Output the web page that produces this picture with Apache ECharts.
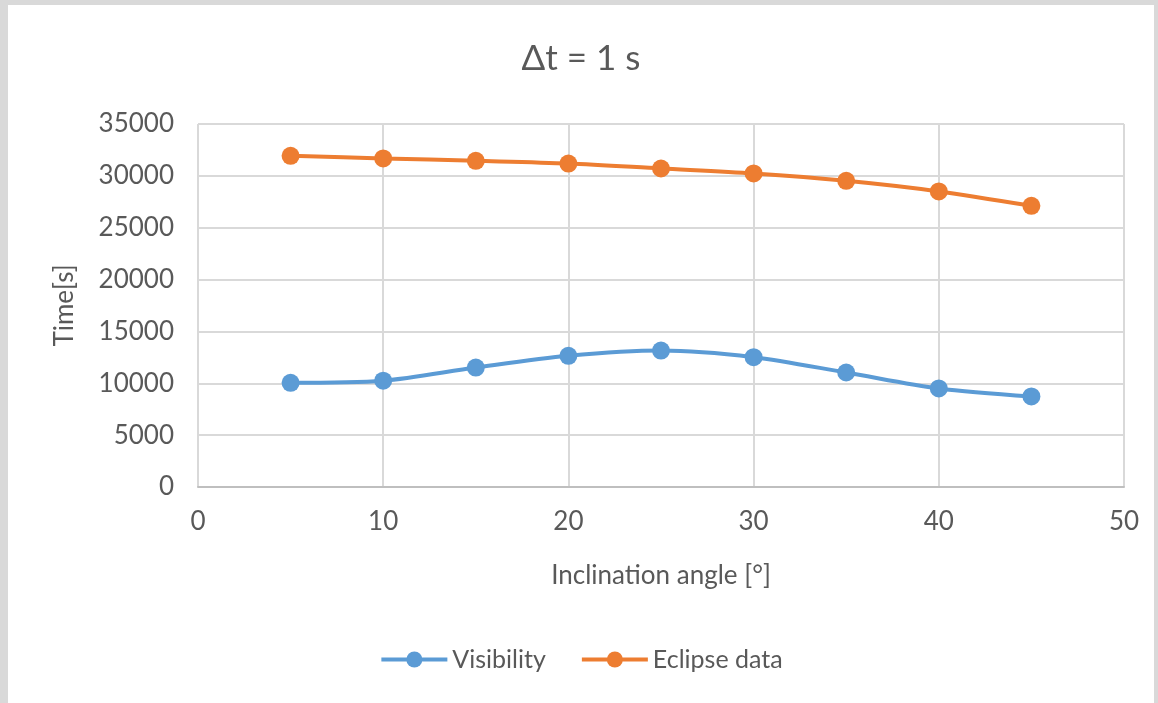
<!DOCTYPE html>
<html>
<head>
<meta charset="utf-8">
<script src="https://cdn.jsdelivr.net/npm/echarts@6/dist/echarts.min.js"></script>
<style>
  html, body { margin: 0; padding: 0; width: 1158px; height: 703px; background: #d9d9d9; overflow: hidden; }
  #chart { position: absolute; left: 8px; top: 5px; width: 1146px; height: 698px; background: #ffffff; }
</style>
</head>
<body>
<div id="chart"></div>
<script>
const angles = [5, 10, 15, 20, 25, 30, 35, 40, 45];
const visibility = [10050, 10250, 11520, 12650, 13160, 12520, 11040, 9500, 8730];
const eclipseData = [31930, 31680, 31450, 31190, 30710, 30230, 29520, 28500, 27110];
const seriesNames = ['Visibility', 'Eclipse data'];
const titleText = 'Δt = 1 s';
const xName = 'Inclination angle [°]';
const yName = 'Time[s]';

const chart = echarts.init(document.getElementById('chart'));
const font = 'Lato, "Open Sans", sans-serif';
const txt = '#595959';
chart.setOption({
  animation: false,
  textStyle: { fontFamily: font },
  title: {
    text: titleText, left: 'center', top: 31,
    textStyle: { fontFamily: font, fontSize: 35, fontWeight: 'normal', color: txt }
  },
  legend: {
    bottom: 26, left: 'center', itemWidth: 66, itemHeight: 20, itemGap: 34,
    lineStyle: { width: 4 },
    textStyle: { fontFamily: font, fontSize: 25, color: txt },
    data: seriesNames
  },
  grid: { left: 190, right: 30, top: 119, bottom: 216, containLabel: false },
  xAxis: {
    type: 'value', min: 0, max: 50, interval: 10,
    name: xName, nameLocation: 'middle', nameGap: 76,
    nameTextStyle: { fontFamily: font, fontSize: 26, color: txt },
    axisLine: { show: true, lineStyle: { color: '#bfbfbf', width: 2 } },
    axisTick: { show: false },
    axisLabel: { fontFamily: font, fontSize: 26, color: txt, margin: 22, formatter: v => String(v) },
    splitLine: { show: true, lineStyle: { color: '#d9d9d9', width: 2 } }
  },
  yAxis: {
    type: 'value', min: 0, max: 35000, interval: 5000,
    name: yName, nameLocation: 'middle', nameGap: 120, nameRotate: 90,
    nameTextStyle: { fontFamily: font, fontSize: 26, color: txt },
    axisLine: { show: false },
    axisTick: { show: false },
    axisLabel: { fontFamily: font, fontSize: 26, color: txt, margin: 24, formatter: v => String(v) },
    splitLine: { show: true, lineStyle: { color: '#d9d9d9', width: 2 } }
  },
  series: [
    {
      name: seriesNames[0], type: 'line', smooth: 0.3,
      data: angles.map((a, i) => [a, visibility[i]]),
      symbol: 'circle', symbolSize: 18,
      lineStyle: { color: '#5b9bd5', width: 4 },
      itemStyle: { color: '#5b9bd5' }
    },
    {
      name: seriesNames[1], type: 'line', smooth: 0.3,
      data: angles.map((a, i) => [a, eclipseData[i]]),
      symbol: 'circle', symbolSize: 18,
      lineStyle: { color: '#ed7d31', width: 4 },
      itemStyle: { color: '#ed7d31' }
    }
  ]
});
</script>
</body>
</html>
